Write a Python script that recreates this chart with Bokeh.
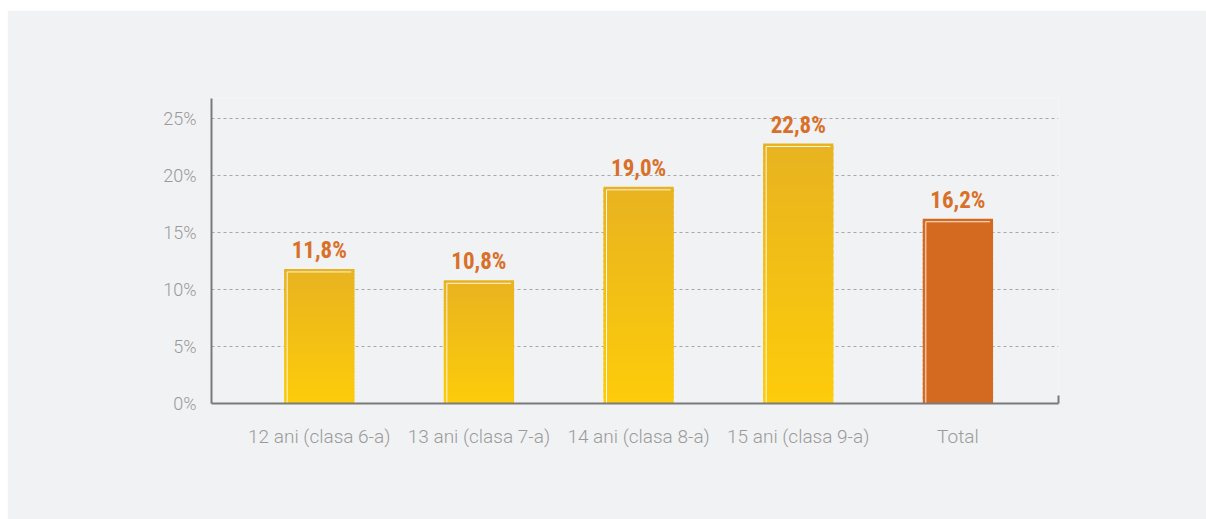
import numpy as np
from bokeh.plotting import figure
from bokeh.models import ColumnDataSource, FixedTicker, PrintfTickFormatter, Range1d, LinearAxis
from bokeh.core.properties import value
from bokeh.embed import file_html
from bokeh.resources import INLINE

categories = ["12 ani (clasa 6-a)", "13 ani (clasa 7-a)", "14 ani (clasa 8-a)", "15 ani (clasa 9-a)", "Total"]
values = [11.8, 10.8, 19.0, 22.8, 16.2]
labels = ["11,8%", "10,8%", "19,0%", "22,8%", "16,2%"]
color_top = ["#e8b320", "#e8b320", "#e8b320", "#e8b320", "#d46a20"]
color_bottom = ["#fdcc0a", "#fdcc0a", "#fdcc0a", "#fdcc0a", "#d46a20"]
y_ticks = [0, 5, 10, 15, 20, 25]

BG = "#f1f2f4"
xs = list(range(len(categories)))
W = 0.44

p = figure(width=1199, height=509, output_backend="svg", toolbar_location=None,
           x_range=Range1d(-0.675, 4.63), y_range=Range1d(0, 26.75),
           min_border_left=204, min_border_right=148, min_border_top=88, min_border_bottom=116,
           background_fill_color=BG, border_fill_color=BG)
p.margin = (10, 0, 0, 7)
p.outline_line_color = None

def hex2rgb(h):
    h = h.lstrip("#")
    return np.array([int(h[i:i + 2], 16) for i in (0, 2, 4)], dtype=float)

# vertical gradient bars: stacked overlapping slices of each bar
N = 40
L, R, B, T, C = [], [], [], [], []
for x, v, ct, cb in zip(xs, values, color_top, color_bottom):
    a, b = hex2rgb(cb), hex2rgb(ct)
    for i in range(N):
        f = (i + 0.5) / N
        c = a + (b - a) * f
        L.append(x - W / 2); R.append(x + W / 2)
        B.append(v * i / N); T.append(v * min(i + 1.6, N) / N)
        C.append("#%02x%02x%02x" % tuple(int(round(t)) for t in c))
p.quad(left=L, right=R, bottom=B, top=T, fill_color=C, line_color=None)

dx, dy = 0.019, 0.26
mx = [[x - W / 2 + dx, x - W / 2 + dx, x + W / 2 - dx] for x in xs]
my = [[0, v - dy, v - dy] for v in values]
p.multi_line(xs=mx, ys=my, line_color="white", line_width=1, line_alpha=0.85)

src = ColumnDataSource(dict(x=xs, y=values, t=labels))
p.text(x="x", y="y", text="t", source=src, text_align="center", text_baseline="bottom",
       y_offset=-5, text_color="#d9702a", text_font_size="23px", text_font_style="bold",
       text_font=value("'Roboto Condensed', Roboto"))

p.xaxis.ticker = FixedTicker(ticks=xs)
p.xaxis.major_label_overrides = {i: c for i, c in enumerate(categories)}
p.yaxis.ticker = FixedTicker(ticks=y_ticks)
p.yaxis.formatter = PrintfTickFormatter(format="%d%%")

for ax in (p.xaxis, p.yaxis):
    ax.axis_line_color = "#7a7a7a"
    ax.axis_line_width = 2
    ax.major_tick_line_color = None
    ax.minor_tick_line_color = None
    ax.major_label_text_color = "#9a9a9a"
    ax.major_label_text_font = "'Roboto Light', Roboto"
p.xaxis.major_label_text_font_size = "19px"
p.yaxis.major_label_text_font_size = "18px"
p.xaxis.major_label_standoff = 15
p.yaxis.major_label_standoff = 9

# small end tick at the right end of the x axis
end_ax = LinearAxis(bounds=(0, 0.7), ticker=FixedTicker(ticks=[]), axis_line_color="#7a7a7a",
                    axis_line_width=2, major_tick_line_color=None, minor_tick_line_color=None,
                    major_label_text_font_size="0px")
p.add_layout(end_ax, "right")

p.xgrid.grid_line_color = None
p.ygrid.ticker = FixedTicker(ticks=y_ticks[1:])
p.ygrid.grid_line_color = "#a8a8a8"
p.ygrid.grid_line_dash = "3 3"
p.ygrid.grid_line_width = 1

open("out.html", "w").write(file_html(p, INLINE))
